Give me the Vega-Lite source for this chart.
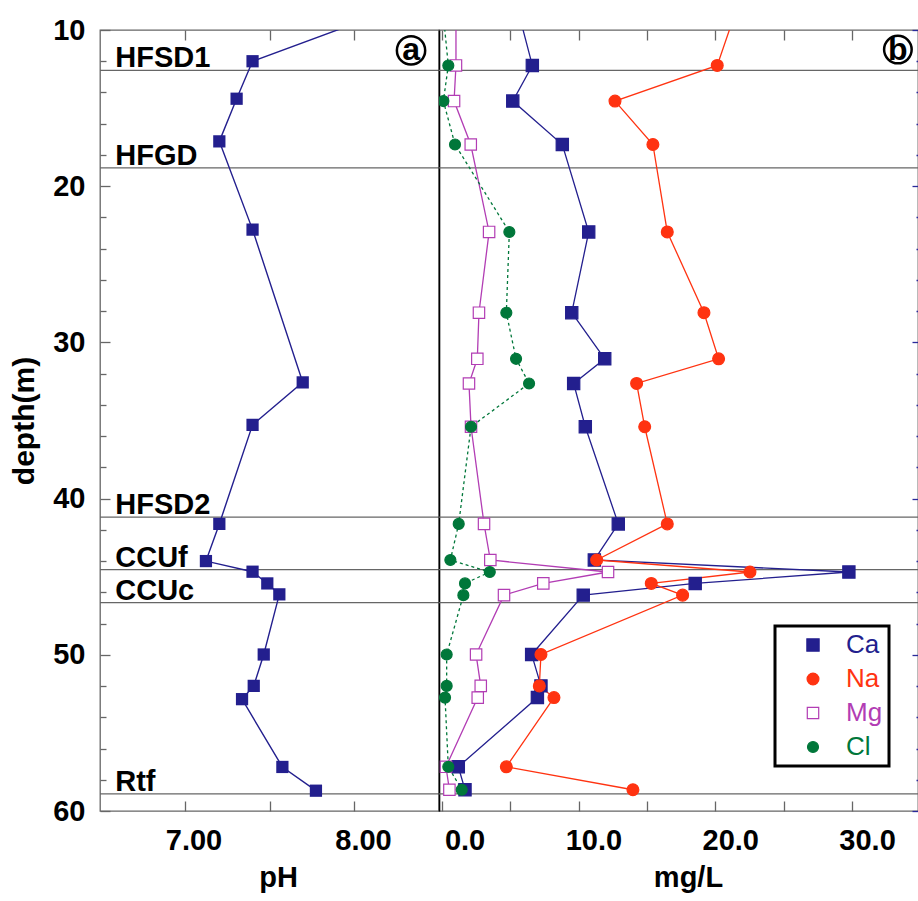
{
  "$schema": "https://vega.github.io/schema/vega-lite/v6.json",
  "padding": {"left": 9, "top": 15, "right": 0, "bottom": 0},
  "background": "white",
  "bounds": "flush",
  "spacing": 0,
  "config": {
    "font": "Liberation Sans",
    "view": {"stroke": "#666666", "strokeWidth": 1.3},
    "axis": {
      "labelFont": "Liberation Sans", "labelFontWeight": "bold", "labelFontSize": 29, "labelColor": "black",
      "titleFont": "Liberation Sans", "titleFontWeight": "bold", "titleColor": "black",
      "grid": false, "domain": false, "tickColor": "#666666", "tickWidth": 1.3, "labelOverlap": false
    }
  },
  "datasets": {
    "ph": [
      {"depth": 8.0, "pH": 8.40},
      {"depth": 12.0, "pH": 7.40},
      {"depth": 14.4, "pH": 7.306},
      {"depth": 17.13, "pH": 7.204},
      {"depth": 22.78, "pH": 7.40},
      {"depth": 32.56, "pH": 7.696},
      {"depth": 35.28, "pH": 7.40},
      {"depth": 41.62, "pH": 7.204},
      {"depth": 44.0, "pH": 7.125},
      {"depth": 44.68, "pH": 7.40},
      {"depth": 45.43, "pH": 7.487},
      {"depth": 46.13, "pH": 7.558},
      {"depth": 49.98, "pH": 7.466},
      {"depth": 51.99, "pH": 7.407},
      {"depth": 52.84, "pH": 7.338},
      {"depth": 57.18, "pH": 7.576},
      {"depth": 58.7, "pH": 7.774}
    ],
    "ions": [
      {"depth": 8.0, "ion": "Ca", "value": 5.35},
      {"depth": 12.27, "ion": "Ca", "value": 6.62},
      {"depth": 14.55, "ion": "Ca", "value": 5.19},
      {"depth": 17.33, "ion": "Ca", "value": 8.81},
      {"depth": 22.93, "ion": "Ca", "value": 10.74},
      {"depth": 28.1, "ion": "Ca", "value": 9.50},
      {"depth": 31.05, "ion": "Ca", "value": 11.91},
      {"depth": 32.63, "ion": "Ca", "value": 9.64},
      {"depth": 35.4, "ion": "Ca", "value": 10.49},
      {"depth": 41.62, "ion": "Ca", "value": 12.90},
      {"depth": 43.93, "ion": "Ca", "value": 11.15},
      {"depth": 44.7, "ion": "Ca", "value": 29.75},
      {"depth": 45.43, "ion": "Ca", "value": 18.52},
      {"depth": 46.18, "ion": "Ca", "value": 10.34},
      {"depth": 49.98, "ion": "Ca", "value": 6.57},
      {"depth": 51.99, "ion": "Ca", "value": 7.25},
      {"depth": 52.74, "ion": "Ca", "value": 6.99},
      {"depth": 57.17, "ion": "Ca", "value": 1.21},
      {"depth": 58.64, "ion": "Ca", "value": 1.70},
      {"depth": 8.0, "ion": "Na", "value": 21.8},
      {"depth": 12.27, "ion": "Na", "value": 20.13},
      {"depth": 14.55, "ion": "Na", "value": 12.66},
      {"depth": 17.33, "ion": "Na", "value": 15.43},
      {"depth": 22.93, "ion": "Na", "value": 16.48},
      {"depth": 28.1, "ion": "Na", "value": 19.16},
      {"depth": 31.05, "ion": "Na", "value": 20.23},
      {"depth": 32.63, "ion": "Na", "value": 14.24},
      {"depth": 35.4, "ion": "Na", "value": 14.83},
      {"depth": 41.62, "ion": "Na", "value": 16.48},
      {"depth": 43.93, "ion": "Na", "value": 11.32},
      {"depth": 44.7, "ion": "Na", "value": 22.52},
      {"depth": 45.43, "ion": "Na", "value": 15.31},
      {"depth": 46.18, "ion": "Na", "value": 17.60},
      {"depth": 49.98, "ion": "Na", "value": 7.25},
      {"depth": 51.99, "ion": "Na", "value": 7.13},
      {"depth": 52.74, "ion": "Na", "value": 8.20},
      {"depth": 57.17, "ion": "Na", "value": 4.72},
      {"depth": 58.64, "ion": "Na", "value": 13.97},
      {"depth": 8.0, "ion": "Mg", "value": 1.04},
      {"depth": 12.27, "ion": "Mg", "value": 1.04},
      {"depth": 14.55, "ion": "Mg", "value": 0.90},
      {"depth": 17.33, "ion": "Mg", "value": 2.12},
      {"depth": 22.93, "ion": "Mg", "value": 3.46},
      {"depth": 28.1, "ion": "Mg", "value": 2.72},
      {"depth": 31.05, "ion": "Mg", "value": 2.60},
      {"depth": 32.63, "ion": "Mg", "value": 1.99},
      {"depth": 35.4, "ion": "Mg", "value": 2.14},
      {"depth": 41.62, "ion": "Mg", "value": 3.09},
      {"depth": 43.93, "ion": "Mg", "value": 3.55},
      {"depth": 44.7, "ion": "Mg", "value": 12.15},
      {"depth": 45.43, "ion": "Mg", "value": 7.42},
      {"depth": 46.18, "ion": "Mg", "value": 4.55},
      {"depth": 49.98, "ion": "Mg", "value": 2.51},
      {"depth": 51.99, "ion": "Mg", "value": 2.85},
      {"depth": 52.74, "ion": "Mg", "value": 2.63},
      {"depth": 57.17, "ion": "Mg", "value": 0.31},
      {"depth": 58.64, "ion": "Mg", "value": 0.56},
      {"depth": 8.0, "ion": "Cl", "value": 0.0},
      {"depth": 12.27, "ion": "Cl", "value": 0.48},
      {"depth": 14.55, "ion": "Cl", "value": 0.12},
      {"depth": 17.33, "ion": "Cl", "value": 0.97},
      {"depth": 22.93, "ion": "Cl", "value": 4.94},
      {"depth": 28.1, "ion": "Cl", "value": 4.72},
      {"depth": 31.05, "ion": "Cl", "value": 5.43},
      {"depth": 32.63, "ion": "Cl", "value": 6.38},
      {"depth": 35.4, "ion": "Cl", "value": 2.14},
      {"depth": 41.62, "ion": "Cl", "value": 1.24},
      {"depth": 43.93, "ion": "Cl", "value": 0.63},
      {"depth": 44.7, "ion": "Cl", "value": 3.51},
      {"depth": 45.43, "ion": "Cl", "value": 1.70},
      {"depth": 46.18, "ion": "Cl", "value": 1.58},
      {"depth": 49.98, "ion": "Cl", "value": 0.36},
      {"depth": 51.99, "ion": "Cl", "value": 0.36},
      {"depth": 52.74, "ion": "Cl", "value": 0.24},
      {"depth": 57.17, "ion": "Cl", "value": 0.48},
      {"depth": 58.64, "ion": "Cl", "value": 1.46}
    ],
    "bounds": [
      {"depth": 12.58, "label": "HFSD1"},
      {"depth": 18.83, "label": "HFGD"},
      {"depth": 41.18, "label": "HFSD2"},
      {"depth": 44.55, "label": "CCUf"},
      {"depth": 46.66, "label": "CCUc"},
      {"depth": 58.9, "label": "Rtf"}
    ],
    "panelA": [{"tag": "a"}],
    "panelB": [{"tag": "b"}]
  },
  "hconcat": [
    {
      "width": 339,
      "height": 781,
      "resolve": {"axis": {"x": "independent", "y": "independent"}},
      "layer": [
        {
          "data": {"name": "bounds"},
          "mark": {"type": "rule", "color": "#666666", "strokeWidth": 1.3},
          "encoding": {
            "y": {
              "field": "depth", "type": "quantitative",
              "scale": {"domain": [10, 60], "reverse": true, "nice": false, "zero": false},
              "axis": {
                "orient": "left",
                "values": [10, 20, 30, 40, 50, 60],
                "format": "d",
                "tickSize": -10,
                "labelPadding": 25,
                "labelOverlap": false,
                "title": "depth(m)",
                "titleFontSize": 30,
                "titlePadding": 13
              }
            }
          }
        },
        {
          "data": {"name": "bounds"},
          "mark": {"type": "text", "align": "left", "baseline": "alphabetic", "dy": -3, "fontSize": 29, "fontWeight": "bold", "font": "Liberation Sans", "color": "black"},
          "encoding": {
            "x": {"datum": 6.59, "type": "quantitative", "axis": null},
            "y": {
              "field": "depth", "type": "quantitative",
              "axis": {
                "orient": "left",
                "values": [12,14,16,18,22,24,26,28,32,34,36,38,42,44,46,48,52,54,56,58],
                "labels": false,
                "title": null,
                "tickSize": -6
              }
            },
            "text": {"field": "label"}
          }
        },
        {
          "data": {"name": "ph"},
          "mark": {"type": "line", "color": "#231f8e", "strokeWidth": 1.4, "clip": true},
          "encoding": {
            "x": {
              "field": "pH", "type": "quantitative",
              "scale": {"domain": [6.5, 8.5], "nice": false, "zero": false},
              "axis": {
                "orient": "bottom",
                "values": [7, 7.5, 8],
                "labelExpr": "datum.value % 1 === 0 ? format(datum.value, '.2f') : ''",
                "tickSize": -10,
                "labelPadding": 25,
                "labelAlign": "right",
                "labelOffset": 37,
                "labelFlush": false,
                "title": "pH",
                "titleFontSize": 29,
                "titlePadding": 8,
                "titleX": 178
              }
            },
            "y": {"field": "depth", "type": "quantitative", "axis": null},
            "order": {"field": "depth"}
          }
        },
        {
          "data": {"name": "ph"},
          "transform": [{"filter": "datum.depth >= 10"}],
          "mark": {"type": "square", "color": "#231f8e", "size": 150, "opacity": 1, "clip": true},
          "encoding": {
            "x": {
              "field": "pH", "type": "quantitative",
              "axis": {"orient": "top", "values": [7, 7.5, 8], "labels": false, "tickSize": -10, "title": null}
            },
            "y": {"field": "depth", "type": "quantitative", "axis": null}
          }
        },
        {
          "data": {"name": "panelA"},
          "mark": {"type": "point", "shape": "circle", "size": 800, "stroke": "black", "strokeWidth": 2.5, "filled": false, "opacity": 1},
          "encoding": {
            "x": {"datum": 8.335, "type": "quantitative", "axis": null},
            "y": {"datum": 11.31, "type": "quantitative", "axis": null}
          }
        },
        {
          "data": {"name": "panelA"},
          "mark": {"type": "text", "fontSize": 32, "fontWeight": "bold", "font": "Liberation Sans", "align": "center", "baseline": "alphabetic", "dy": 10, "color": "black"},
          "encoding": {
            "x": {"datum": 8.335, "type": "quantitative", "axis": null},
            "y": {"datum": 11.31, "type": "quantitative", "axis": null},
            "text": {"field": "tag"}
          }
        }
      ]
    },
    {
      "width": 479,
      "height": 781,
      "resolve": {"axis": {"x": "independent", "y": "independent"}},
      "layer": [
        {
          "data": {"name": "bounds"},
          "mark": {"type": "rule", "color": "#666666", "strokeWidth": 1.3},
          "encoding": {
            "y": {
              "field": "depth", "type": "quantitative",
              "scale": {"domain": [10, 60], "reverse": true, "nice": false, "zero": false},
              "axis": {"orient": "left", "domain": true, "domainColor": "black", "domainWidth": 1.6, "ticks": false, "labels": false, "title": null}
            }
          }
        },
        {
          "data": {"name": "ions"},
          "transform": [{"filter": "datum.ion !== 'Cl'"}],
          "mark": {"type": "line", "strokeWidth": 1.3, "clip": true},
          "encoding": {
            "x": {
              "field": "value", "type": "quantitative",
              "scale": {"domain": [-0.2, 34.8], "nice": false, "zero": false},
              "axis": {
                "orient": "bottom",
                "values": [0, 5, 10, 15, 20, 25, 30],
                "labelExpr": "datum.value % 10 === 0 ? format(datum.value, '.1f') : ''",
                "tickSize": -10,
                "labelPadding": 25,
                "labelAlign": "right",
                "labelOffset": 43,
                "labelFlush": false,
                "title": "mg/L",
                "titleFontSize": 29,
                "titlePadding": 8,
                "titleX": 249
              }
            },
            "y": {"field": "depth", "type": "quantitative", "axis": null},
            "order": {"field": "depth"},
            "color": {
              "field": "ion", "type": "nominal",
              "scale": {"domain": ["Ca", "Na", "Mg", "Cl"], "range": ["#231f8e", "#ff3311", "#b23db4", "#00773a"]},
              "legend": {
                "orient": "none",
                "legendX": 675,
                "legendY": 596,
                "title": null,
                "fillColor": "white",
                "strokeColor": "black",
                "padding": 6,
                "labelFont": "Liberation Sans",
                "labelFontSize": 26,
                "labelFontWeight": "normal",
                "symbolSize": 784,
                "symbolOffset": 19,
                "labelOffset": 20,
                "rowPadding": 8,
                "encoding": {
                  "legend": {
                    "strokeWidth": {"value": 3}
                  },
                  "symbols": {
                    "shape": {
                      "condition": [
                        {"test": "datum.value === 'Ca'", "value": "M-2,-0.025L2,-0.025L2,0.025L-2,0.025ZM-0.43,-0.43L0.43,-0.43L0.43,0.43L-0.43,0.43Z"},
                        {"test": "datum.value === 'Na'", "value": "M-2,-0.025L2,-0.025L2,0.025L-2,0.025ZM-0.5,0A0.5,0.5,0,1,0,0.5,0A0.5,0.5,0,1,0,-0.5,0Z"},
                        {"test": "datum.value === 'Mg'", "value": "M-2,-0.025L-0.29,-0.025L-0.29,0.025L-2,0.025ZM0.29,-0.025L2,-0.025L2,0.025L0.29,0.025ZM-0.29,-0.29L0.29,-0.29L0.29,0.29L-0.29,0.29Z"}
                      ],
                      "value": "M-2,-0.025L-1.786,-0.025L-1.786,0.025L-2,0.025ZM-1.571,-0.025L-1.357,-0.025L-1.357,0.025L-1.571,0.025ZM-1.143,-0.025L-0.929,-0.025L-0.929,0.025L-1.143,0.025ZM-0.714,-0.025L-0.5,-0.025L-0.5,0.025L-0.714,0.025ZM0.5,-0.025L0.714,-0.025L0.714,0.025L0.5,0.025ZM0.929,-0.025L1.143,-0.025L1.143,0.025L0.929,0.025ZM1.357,-0.025L1.571,-0.025L1.571,0.025L1.357,0.025ZM1.786,-0.025L2,-0.025L2,0.025L1.786,0.025ZM-0.32,0A0.32,0.32,0,1,0,0.32,0A0.32,0.32,0,1,0,-0.32,0Z"
                    },
                    "fill": {
                      "condition": [
                        {"test": "datum.value === 'Ca'", "value": "#231f8e"},
                        {"test": "datum.value === 'Na'", "value": "#ff3311"},
                        {"test": "datum.value === 'Mg'", "value": "white"}
                      ],
                      "value": "#00773a"
                    },
                    "stroke": {
                      "condition": [
                        {"test": "datum.value === 'Ca'", "value": "#231f8e"},
                        {"test": "datum.value === 'Na'", "value": "#ff3311"},
                        {"test": "datum.value === 'Mg'", "value": "#b23db4"}
                      ],
                      "value": "#00773a"
                    },
                    "strokeWidth": {"value": 1.2},
                    "opacity": {"value": 1},
                    "fillOpacity": {"value": 1}
                  },
                  "labels": {
                    "fill": {
                      "condition": [
                        {"test": "datum.value === 'Ca'", "value": "#231f8e"},
                        {"test": "datum.value === 'Na'", "value": "#ff3311"},
                        {"test": "datum.value === 'Mg'", "value": "#b23db4"}
                      ],
                      "value": "#00773a"
                    }
                  }
                }
              }
            }
          }
        },
        {
          "data": {"name": "ions"},
          "transform": [{"filter": "datum.ion === 'Cl'"}],
          "mark": {"type": "line", "strokeWidth": 1.3, "strokeDash": [3, 3], "clip": true},
          "encoding": {
            "x": {"field": "value", "type": "quantitative", "axis": null},
            "y": {"field": "depth", "type": "quantitative", "axis": null},
            "order": {"field": "depth"},
            "color": {"field": "ion", "type": "nominal"}
          }
        },
        {
          "data": {"name": "ions"},
          "transform": [{"filter": "datum.depth >= 10"}],
          "mark": {"type": "point", "filled": true, "opacity": 1, "strokeWidth": 1.2, "clip": true},
          "encoding": {
            "x": {
              "field": "value", "type": "quantitative",
              "axis": {"orient": "top", "values": [0, 5, 10, 15, 20, 25, 30], "labels": false, "tickSize": -10, "title": null}
            },
            "y": {
              "field": "depth", "type": "quantitative",
              "axis": {
                "orient": "right",
                "values": [10,12,14,16,18,20,22,24,26,28,30,32,34,36,38,40,42,44,46,48,50,52,54,56,58,60],
                "labels": false,
                "title": null,
                "tickColor": "#2a2a9a",
                "tickSize": {"condition": {"test": "datum.value % 10 === 0", "value": -6}, "value": -2}
              }
            },
            "shape": {
              "field": "ion", "type": "nominal",
              "scale": {"domain": ["Ca", "Na", "Mg", "Cl"], "range": ["square", "circle", "square", "circle"]},
              "legend": null
            },
            "size": {
              "field": "ion", "type": "nominal",
              "scale": {"domain": ["Ca", "Na", "Mg", "Cl"], "range": [150, 120, 45, 55]},
              "legend": null
            },
            "fill": {
              "field": "ion", "type": "nominal",
              "scale": {"domain": ["Ca", "Na", "Mg", "Cl"], "range": ["#231f8e", "#ff3311", "white", "#00773a"]},
              "legend": null
            },
            "stroke": {
              "field": "ion", "type": "nominal",
              "scale": {"domain": ["Ca", "Na", "Mg", "Cl"], "range": ["#231f8e", "#ff3311", "#b23db4", "#00773a"]},
              "legend": null
            }
          }
        },
        {
          "data": {"name": "panelB"},
          "mark": {"type": "point", "shape": "circle", "size": 760, "stroke": "black", "strokeWidth": 2.5, "filled": false, "opacity": 1},
          "encoding": {
            "x": {"datum": 33.33, "type": "quantitative", "axis": null},
            "y": {"datum": 11.25, "type": "quantitative", "axis": null}
          }
        },
        {
          "data": {"name": "panelB"},
          "mark": {"type": "text", "fontSize": 32, "fontWeight": "bold", "font": "Liberation Sans", "align": "center", "baseline": "alphabetic", "dy": 10, "color": "black"},
          "encoding": {
            "x": {"datum": 33.33, "type": "quantitative", "axis": null},
            "y": {"datum": 11.25, "type": "quantitative", "axis": null},
            "text": {"field": "tag"}
          }
        }
      ]
    }
  ]
}
